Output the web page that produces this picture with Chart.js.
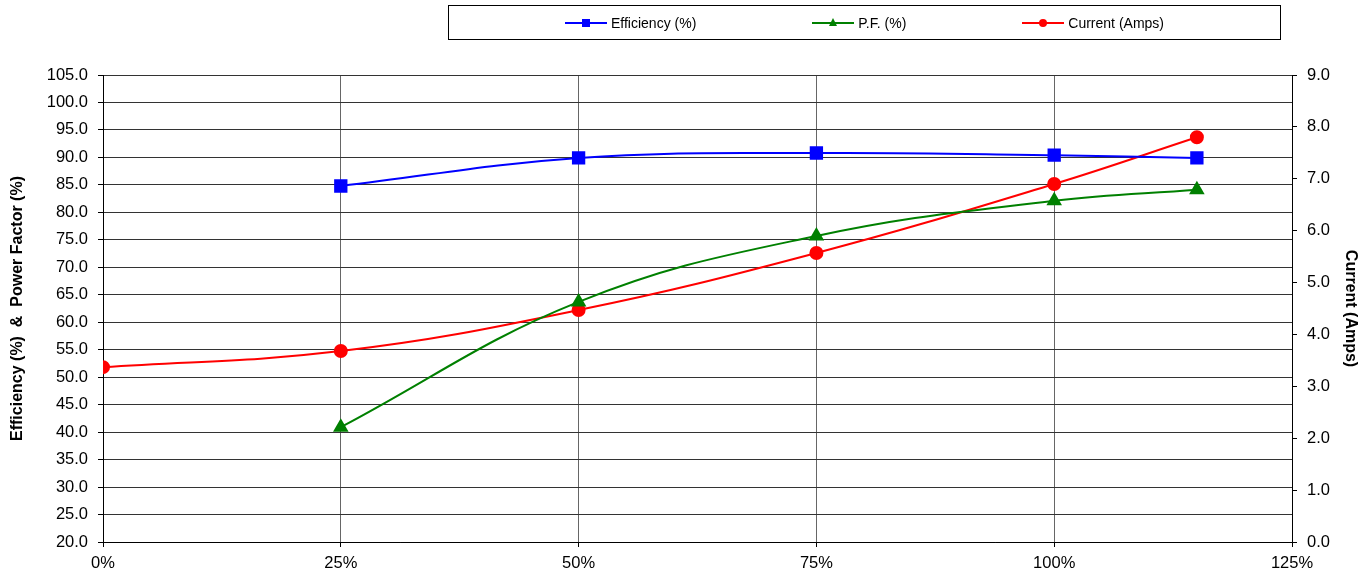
<!DOCTYPE html>
<html>
<head>
<meta charset="utf-8">
<script src="https://cdn.jsdelivr.net/npm/chart.js@4"></script>
<style>
  body { margin: 0; background: #fff; font-family: "Liberation Sans", Arial, sans-serif; }
  #wrap { position: relative; width: 1372px; height: 571px; }
  #legend {
    position: absolute; left: 448px; top: 5px; width: 831px; height: 33px;
    border: 1px solid #000; display: flex; align-items: center; justify-content: center; gap: 116px;
    font-size: 14px; color: #000;
  }
  .item { display: flex; align-items: center; gap: 4px; }
  .sample { position: relative; width: 42px; height: 12px; }
  .sample .ln { position: absolute; left: 0; right: 0; top: 5px; height: 2px; }
  .sample .mk { position: absolute; left: 17px; top: 2px; width: 8px; height: 8px; }
</style>
</head>
<body>
<div id="wrap">
  <canvas id="myChart" width="1372" height="571"></canvas>
  <div id="legend"></div>
</div>
<script>
const cargas = [0, 25, 50, 75, 100, 115];
const eficiencia = [null, 84.8, 89.9, 90.8, 90.4, 89.9];
const factorPotencia = [null, 40.9, 63.7, 75.7, 82.1, 84.1];
const corriente = [3.37, 3.68, 4.47, 5.57, 6.90, 7.80];

const nombres = ['Efficiency (%)', 'P.F. (%)', 'Current (Amps)'];
const colores = ['#0000ff', '#008000', '#ff0000'];

const aPuntos = (serie) => cargas.map((x, i) => ({ x: x, y: serie[i] })).filter(p => p.y !== null);

const fuente = { family: '"Liberation Sans", Arial, sans-serif', size: 16.5 };
const fuenteTitulo = { family: '"Liberation Sans", Arial, sans-serif', size: 16, weight: 'bold' };

// leyenda en html con recuadro
const legend = document.getElementById('legend');
nombres.forEach((n, i) => {
    const item = document.createElement('div');
    item.className = 'item';
    let marca = '';
    if (i === 0) marca = `<div class="mk" style="background:${colores[i]}"></div>`;
    if (i === 1) marca = `<div class="mk" style="width:0;height:0;background:none;left:17px;top:1px;border-left:4px solid transparent;border-right:4px solid transparent;border-bottom:8px solid ${colores[i]}"></div>`;
    if (i === 2) marca = `<div class="mk" style="background:${colores[i]};border-radius:50%"></div>`;
    item.innerHTML = `<div class="sample"><div class="ln" style="background:${colores[i]}"></div>${marca}</div><span>${n}</span>`;
    legend.appendChild(item);
});

const ctx = document.getElementById('myChart').getContext('2d');
new Chart(ctx, {
    type: 'line',
    data: {
        datasets: [{
            label: nombres[0],
            data: aPuntos(eficiencia),
            borderColor: colores[0],
            backgroundColor: colores[0],
            borderWidth: 2,
            pointStyle: 'rect',
            pointRadius: 8,
            tension: 0.4,
            yAxisID: 'y'
        }, {
            label: nombres[1],
            data: aPuntos(factorPotencia),
            borderColor: colores[1],
            backgroundColor: colores[1],
            borderWidth: 2,
            pointStyle: 'triangle',
            pointRadius: 7,
            tension: 0.4,
            yAxisID: 'y'
        }, {
            label: nombres[2],
            data: aPuntos(corriente),
            borderColor: colores[2],
            backgroundColor: colores[2],
            borderWidth: 2,
            pointStyle: 'circle',
            pointRadius: 6,
            tension: 0.4,
            yAxisID: 'y1'
        }]
    },
    options: {
        responsive: false,
        animation: false,
        layout: { padding: { top: 75, left: 0, right: 0, bottom: 0 } },
        plugins: { legend: { display: false }, tooltip: { enabled: false } },
        scales: {
            x: {
                type: 'linear',
                min: 0, max: 125,
                ticks: { stepSize: 25, color: '#000', font: fuente, padding: 7, callback: v => v + '%' },
                grid: { color: '#666', tickLength: 5, tickColor: '#000' },
                border: { color: '#000' },
                afterFit: s => { s.height = 29; }
            },
            y: {
                position: 'left',
                min: 20, max: 105,
                ticks: { stepSize: 5, color: '#000', font: fuente, padding: 10, callback: v => v.toFixed(1) },
                grid: { color: '#333', tickLength: 5, tickColor: '#000' },
                border: { color: '#000' },
                title: { display: true, text: 'Efficiency (%)  &  Power Factor (%)', color: '#000',
                         font: fuenteTitulo, padding: { top: 8, bottom: 0 } },
                afterFit: s => { s.width = 103; }
            },
            y1: {
                position: 'right',
                min: 0, max: 9,
                ticks: { stepSize: 1, color: '#000', font: fuente, padding: 10, callback: v => v.toFixed(1) },
                grid: { drawOnChartArea: false, tickLength: 5, tickColor: '#000' },
                border: { color: '#000' },
                title: { display: true, text: 'Current (Amps)', color: '#000',
                         font: fuenteTitulo, padding: { top: 12, bottom: 0 } },
                afterFit: s => { s.width = 80; }
            }
        }
    }
});
</script>
</body>
</html>
